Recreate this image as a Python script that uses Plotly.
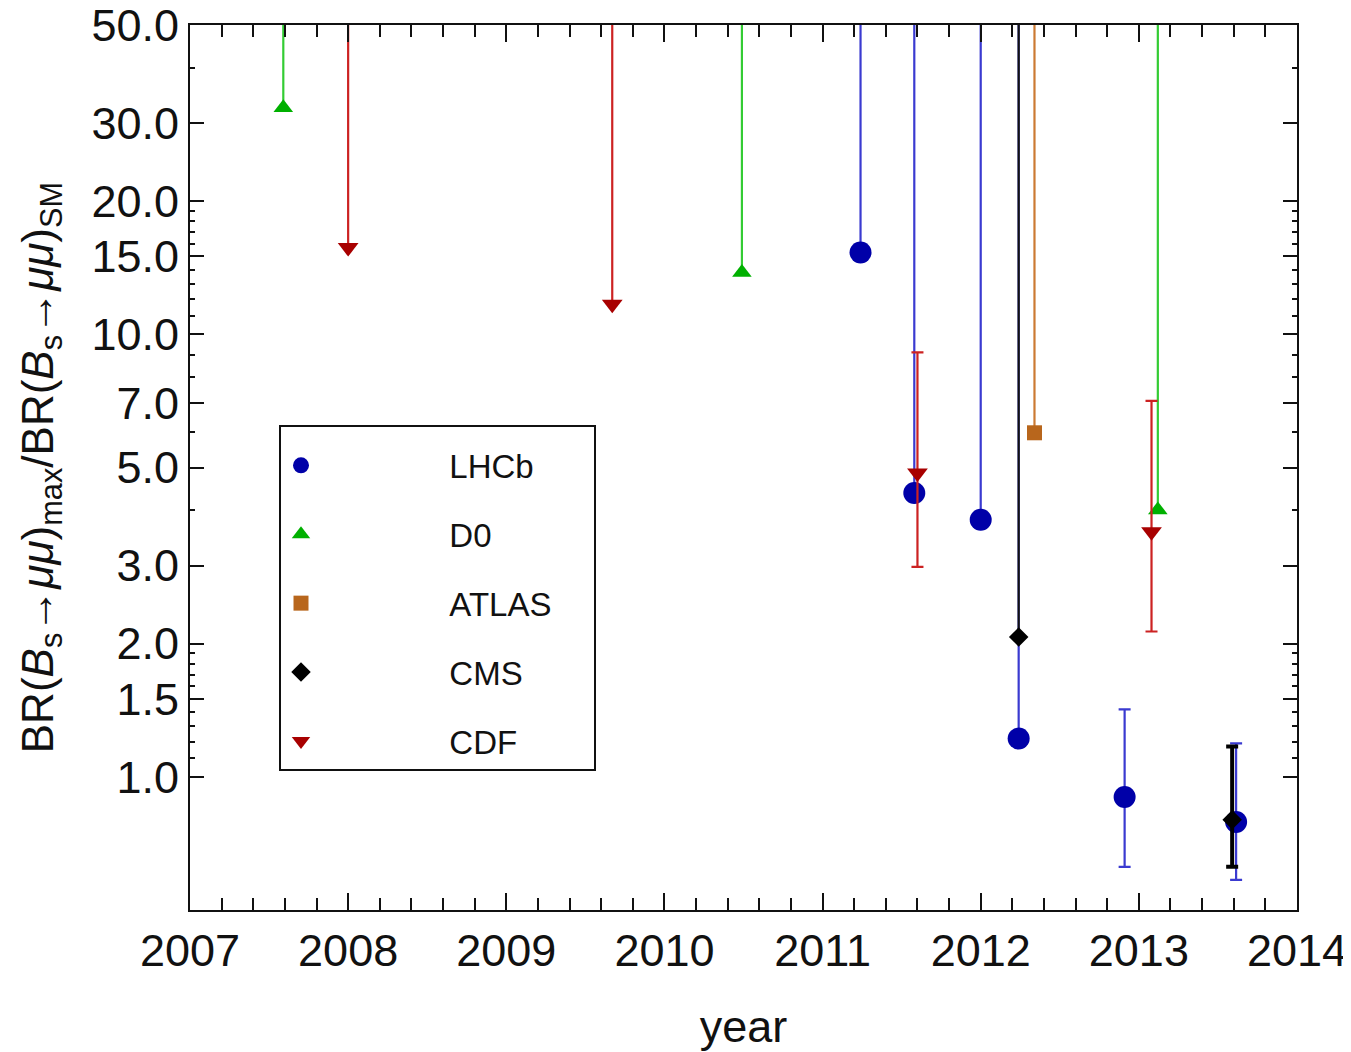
import plotly.graph_objects as go

# ---------------- data ----------------
# upper limits: line drawn from the point to the top of the chart
# measurements: point with asymmetric error bar (lo/hi are the bar ends)
LIMIT_TOP = 51.6

lhcb_lim_year = [2011.24, 2011.58, 2012.00, 2012.24]
lhcb_lim_val = [15.3, 4.38, 3.81, 1.22]
lhcb_meas_year = [2012.91, 2013.615]
lhcb_meas_val = [0.90, 0.79]
lhcb_meas_lo = [0.626, 0.585]
lhcb_meas_hi = [1.42, 1.19]

d0_lim_year = [2007.59, 2010.49, 2013.12]
d0_lim_val = [32.5, 13.8, 4.01]

atlas_lim_year = [2012.34]
atlas_lim_val = [5.99]

cms_lim_year = [2012.24]
cms_lim_val = [2.07]
cms_meas_year = [2013.59]
cms_meas_val = [0.80]
cms_meas_lo = [0.626]
cms_meas_hi = [1.17]

cdf_lim_year = [2008.00, 2009.67]
cdf_lim_val = [15.7, 11.7]
cdf_meas_year = [2011.60, 2013.08]
cdf_meas_val = [4.86, 3.58]
cdf_meas_lo = [2.98, 2.13]
cdf_meas_hi = [9.1, 7.07]

y_tickvals = [1, 1.5, 2, 3, 5, 7, 10, 15, 20, 30, 50]
y_ticktext = ["1.0", "1.5", "2.0", "3.0", "5.0", "7.0", "10.0", "15.0", "20.0", "30.0", "50.0"]
y_minorvals = [1.1, 1.2, 1.3, 1.4, 1.6, 1.7, 1.8, 1.9, 4, 6, 8, 9,
               11, 12, 13, 14, 16, 17, 18, 19, 40]
x_tickvals = [2007, 2008, 2009, 2010, 2011, 2012, 2013, 2014]

series = [
    dict(name="LHCb", mc="#0000a8", lc="#3a3ad0", sym="circle", size=22,
         lim=(lhcb_lim_year, lhcb_lim_val),
         meas=(lhcb_meas_year, lhcb_meas_val, lhcb_meas_lo, lhcb_meas_hi), th=2.2),
    dict(name="D0", mc="#00b000", lc="#33cc33", sym="triangle-up", size=17,
         lim=(d0_lim_year, d0_lim_val), meas=None, th=2.2),
    dict(name="ATLAS", mc="#b8661c", lc="#cc7a33", sym="square", size=15,
         lim=(atlas_lim_year, atlas_lim_val), meas=None, th=2.2),
    dict(name="CMS", mc="#000000", lc="#111111", sym="diamond", size=15,
         lim=(cms_lim_year, cms_lim_val),
         meas=(cms_meas_year, cms_meas_val, cms_meas_lo, cms_meas_hi), th=4),
    dict(name="CDF", mc="#a80000", lc="#cc2222", sym="triangle-down", size=18,
         lim=(cdf_lim_year, cdf_lim_val),
         meas=(cdf_meas_year, cdf_meas_val, cdf_meas_lo, cdf_meas_hi), th=2.2),
]

NB = "\u00a0"
fig = go.Figure()
for s in series:
    ly, lv = s["lim"]
    fig.add_trace(go.Scatter(
        x=ly, y=lv, mode="markers", name=NB * 14 + s["name"] + NB * 4,
        legendgroup=s["name"], showlegend=True, cliponaxis=False,
        marker=dict(symbol=s["sym"], size=s["size"], color=s["mc"], line=dict(width=0)),
        error_y=dict(type="data", symmetric=False,
                     array=[LIMIT_TOP - v for v in lv], arrayminus=[0] * len(lv),
                     color=s["lc"], thickness=2.2, width=0),
    ))
    if s["meas"] is not None:
        my, mv, mlo, mhi = s["meas"]
        fig.add_trace(go.Scatter(
            x=my, y=mv, mode="markers", name=s["name"], legendgroup=s["name"],
            showlegend=False, cliponaxis=False,
            marker=dict(symbol=s["sym"], size=s["size"], color=s["mc"], line=dict(width=0)),
            error_y=dict(type="data", symmetric=False,
                         array=[h - v for h, v in zip(mhi, mv)],
                         arrayminus=[v - l for l, v in zip(mlo, mv)],
                         color=s["lc"] if s["name"] != "CMS" else "#000000",
                         thickness=s["th"], width=6),
        ))

font_family = "Liberation Sans, Arial, sans-serif"
txt = "#111111"

fig.update_layout(
    width=1343, height=1044,
    margin=dict(l=182, r=54, t=17, b=142, autoexpand=False),
    paper_bgcolor="white", plot_bgcolor="white",
    font=dict(family=font_family, color=txt, size=40),
    showlegend=True,
    legend=dict(x=(279 - 190) / 1107, y=(910 - 425) / 885, xanchor="left", yanchor="top",
                bordercolor="#111111", borderwidth=2, bgcolor="white",
                font=dict(size=33, family=font_family, color=txt),
                itemwidth=30, tracegroupgap=23, itemsizing="trace",
                title=dict(text=NB, font=dict(size=8))),
    xaxis=dict(
        range=[2007, 2014], tickmode="array", tickvals=x_tickvals,
        ticks="inside", ticklen=17, tickwidth=2, tickcolor="#111111",
        showline=True, linecolor="#111111", linewidth=2, mirror="ticks",
        showgrid=False, zeroline=False, ticklabeloverflow="allow",
        tickfont=dict(size=45, family=font_family, color=txt),
        minor=dict(dtick=0.2, tick0=2007, ticks="inside", ticklen=12, tickwidth=2,
                   tickcolor="#111111", showgrid=False),
        title=dict(text="year", font=dict(size=45, family=font_family, color=txt),
                   standoff=42),
    ),
    yaxis=dict(
        type="log", range=[-0.30103, 1.69898],
        tickmode="array", tickvals=y_tickvals, ticktext=y_ticktext,
        ticks="inside", ticklen=14, tickwidth=2, tickcolor="#111111",
        showline=True, linecolor="#111111", linewidth=2, mirror="ticks",
        showgrid=False, zeroline=False, ticklabeloverflow="allow",
        tickfont=dict(size=45, family=font_family, color=txt),
        minor=dict(tickmode="array", tickvals=y_minorvals, ticks="inside", ticklen=5,
                   tickwidth=2, tickcolor="#111111", showgrid=False),
        title=dict(text="BR(<i>B</i><sub>s</sub>→<i>μμ</i>)<sub>max</sub>/BR(<i>B</i><sub>s</sub>→<i>μμ</i>)<sub>SM</sub>",
                   font=dict(size=44, family=font_family, color=txt),
                   standoff=24),
    ),
)

fig.write_html("out.html")
